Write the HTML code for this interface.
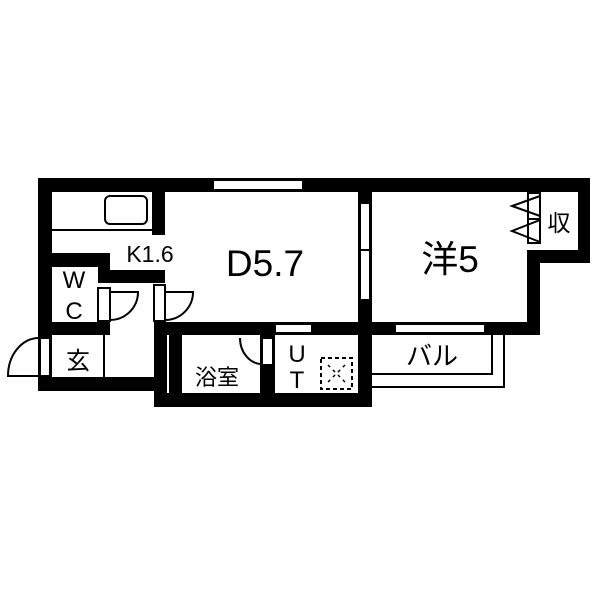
<!DOCTYPE html>
<html><head><style>body{margin:0;background:#fff}svg{display:block}</style></head><body>
<svg width="600" height="600" viewBox="0 0 600 600" xmlns="http://www.w3.org/2000/svg" font-family="Liberation Sans, Noto Sans CJK JP, sans-serif">
<rect width="600" height="600" fill="#fff"/>
<g fill="#000">
<rect x="38" y="178" width="552" height="14"/>
<rect x="38" y="178" width="14" height="213"/>
<rect x="578" y="178" width="12" height="85"/>
<rect x="527" y="250" width="63" height="13"/>
<rect x="527" y="250" width="13" height="85"/>
<rect x="340" y="322" width="200" height="13"/>
<rect x="358" y="178" width="14" height="229"/>
<rect x="152" y="178" width="13" height="57"/>
<rect x="38" y="253" width="72" height="14"/>
<rect x="98" y="253" width="12" height="30"/>
<rect x="98" y="270" width="67" height="13"/>
<rect x="38" y="322" width="72" height="13"/>
<rect x="154" y="322" width="218" height="13"/>
<rect x="154" y="322" width="28" height="85"/>
<rect x="154" y="393" width="218" height="14"/>
<rect x="38" y="377" width="116" height="14"/>
<rect x="260" y="335" width="15" height="72"/>
</g>
<g fill="#fff" stroke="#000" stroke-width="2">
<rect x="213" y="180" width="90" height="10"/>
<rect x="360" y="203" width="10" height="97"/>
<line x1="360" y1="250" x2="370" y2="250"/>
<rect x="395" y="324" width="90" height="9"/>
<rect x="275" y="324" width="37" height="9"/>
<rect x="528" y="193" width="12" height="50"/>
<line x1="528" y1="219" x2="540" y2="219"/>
<rect x="98" y="288" width="12" height="33"/>
<rect x="154" y="285" width="11" height="36"/>
<rect x="40" y="338" width="10" height="38"/>
<rect x="262" y="338" width="11" height="27"/>
</g>
<g fill="none" stroke="#000" stroke-width="2">
<line x1="52" y1="230" x2="152" y2="230"/>
<rect x="105" y="196" width="42" height="28" rx="5"/>
<path d="M110 320 A28 28 0 0 0 138 292 L110 292"/>
<path d="M165 320 A28 28 0 0 0 193 292 L165 292"/>
<path d="M38 338 A31 38 0 0 0 8 376 L38 376"/>
<path d="M240 338 A22 26 0 0 0 262 364"/>
<line x1="104" y1="335" x2="104" y2="377"/>
<line x1="168" y1="335" x2="168" y2="393" stroke="#fff" stroke-width="2"/>
<polyline points="540,196 512,206 540,216"/>
<polyline points="540,220 512,231 540,242"/>
<polyline points="372,374 492,374 492,335"/>
<polyline points="372,387 504,387 504,335"/>
<rect x="321" y="358" width="31" height="31" stroke-dasharray="4,3" stroke-width="2"/>
<path d="M328 365 L345 382 M345 365 L328 382" stroke-dasharray="3,4" stroke-width="1.5"/>
</g>
<g fill="#000">
<text x="265" y="276" font-size="37" text-anchor="middle">D5.7</text>
<text x="450" y="272" font-size="37" text-anchor="middle">洋5</text>
<text x="150" y="262" font-size="23" text-anchor="middle">K1.6</text>
<text x="74" y="288" font-size="24" text-anchor="middle">W</text>
<text x="74" y="319" font-size="24" text-anchor="middle">C</text>
<text x="78" y="369" font-size="24" text-anchor="middle">玄</text>
<text x="217" y="385" font-size="22" text-anchor="middle">浴室</text>
<text x="297" y="362" font-size="24" text-anchor="middle">U</text>
<text x="297" y="388" font-size="24" text-anchor="middle">T</text>
<text x="432" y="365" font-size="26" text-anchor="middle">バル</text>
<text x="559" y="231" font-size="23" text-anchor="middle">収</text>
</g>
</svg>
</body></html>
